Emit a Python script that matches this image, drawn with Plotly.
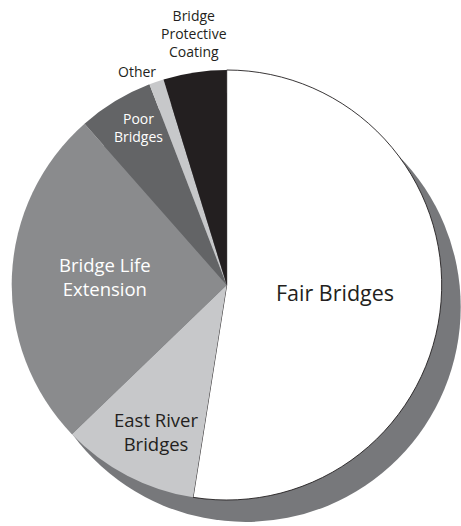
import plotly.graph_objects as go

# Funding shares, clockwise from 12 o'clock
categories = ["Fair Bridges", "East River Bridges", "Bridge Life Extension",
              "Poor Bridges", "Other", "Bridge Protective Coating"]
shares = [52.5, 10.3, 25.7, 5.65, 1.1, 4.75]

slice_colors = ["#ffffff", "#c7c8ca", "#8a8b8d", "#636466", "#c7c8ca", "#231f20"]
outline_widths = [0.9, 0, 0, 0, 0, 0]

W, H = 461, 526
cx, cy, r = 226.7, 285.0, 215.0      # pie centre (px from top-left) and radius
sdx, sdy = 19.0, 22.0                 # drop-shadow offset


def domain(cx, cy, r):
    return dict(x=[(cx - r) / W, (cx + r) / W],
                y=[(H - cy - r) / H, (H - cy + r) / H])


fig = go.Figure()

# drop shadow: a single grey disc offset to the lower right
fig.add_trace(go.Pie(
    values=[sum(shares)], labels=["shadow"], domain=domain(cx + sdx, cy + sdy, r),
    marker=dict(colors=["#77787b"], line=dict(width=0)),
    textinfo="none", hoverinfo="skip", sort=False, showlegend=False,
))

fig.add_trace(go.Pie(
    values=shares, labels=categories, domain=domain(cx, cy, r),
    sort=False, direction="clockwise", rotation=0,
    marker=dict(colors=slice_colors, line=dict(color="#231f20", width=outline_widths)),
    textinfo="none", showlegend=False,
))

font = "Open Sans, Noto Sans, sans-serif"
labels = [
    ("Fair Bridges", 335, 293, 21.5, "#231f20"),
    ("Bridge Life<br>Extension", 105, 276, 18.5, "#ffffff"),
    ("East River<br>Bridges", 156, 431, 18.5, "#231f20"),
    ("Poor<br>Bridges", 138, 128, 14, "#ffffff"),
    ("Other", 137, 72, 14, "#231f20"),
    ("Bridge<br>Protective<br>Coating", 194, 33, 14, "#231f20"),
]
for text, x, y, size, color in labels:
    fig.add_annotation(
        x=x / W, y=(H - y) / H, xref="paper", yref="paper",
        text=text, showarrow=False, xanchor="center", yanchor="middle",
        font=dict(family=font, size=size, color=color),
    )

fig.update_layout(
    width=W, height=H, margin=dict(l=0, r=0, t=0, b=0),
    paper_bgcolor="white", plot_bgcolor="white",
)

fig.write_html("out.html")
